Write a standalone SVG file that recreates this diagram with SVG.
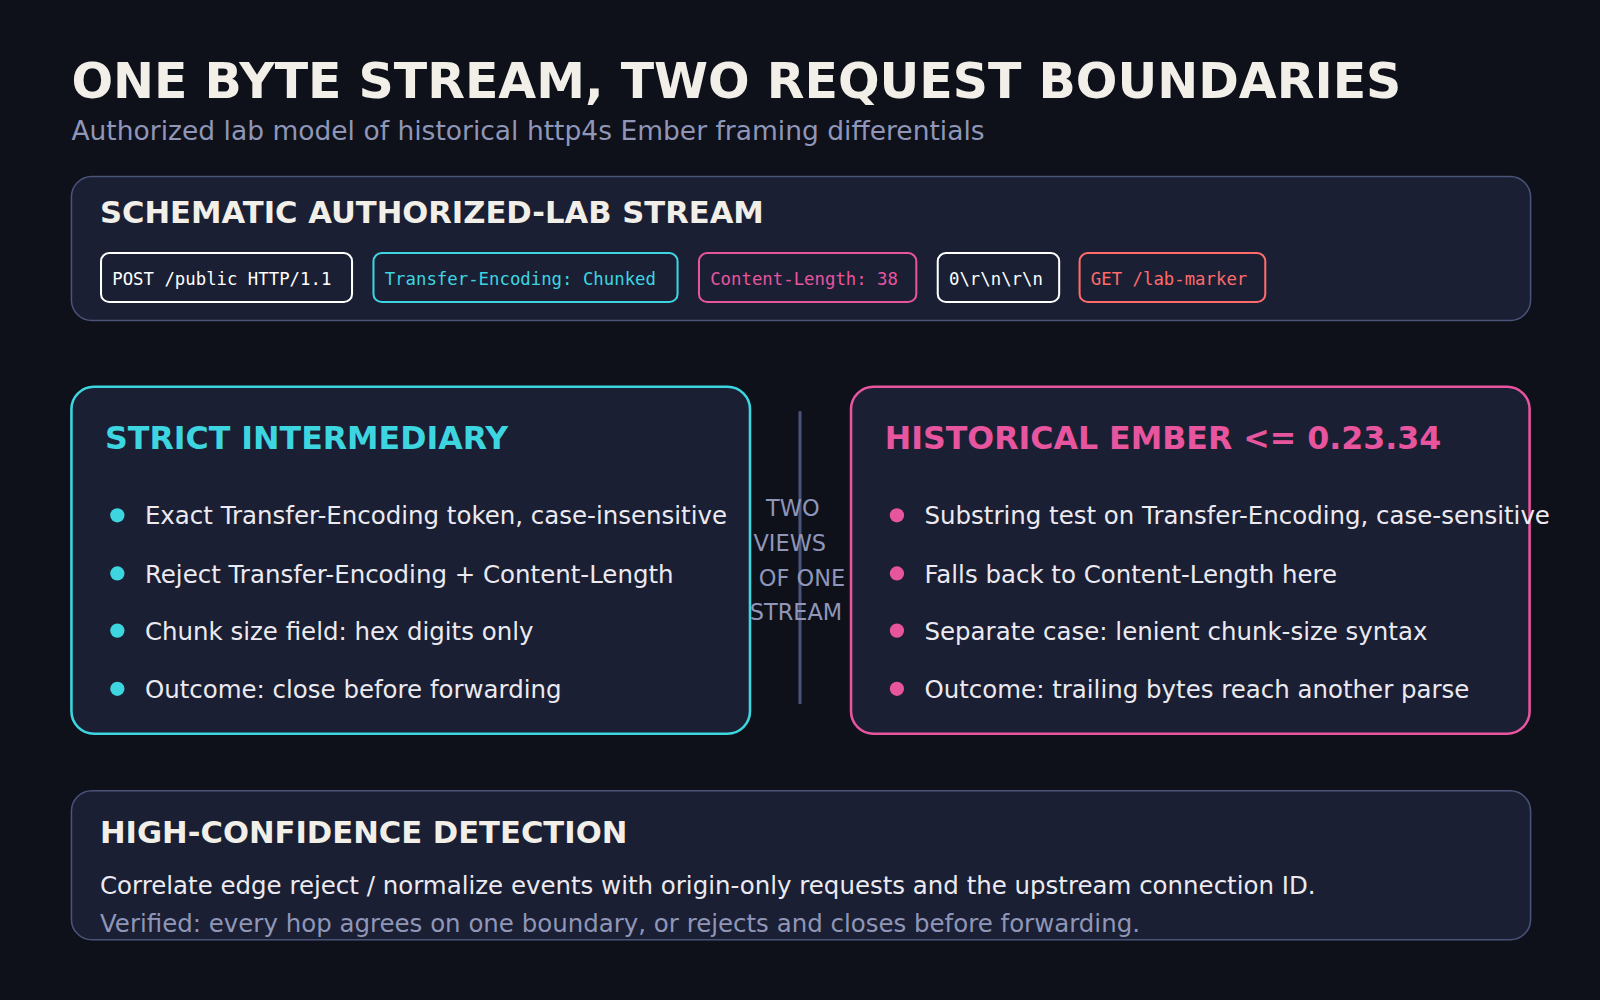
<svg xmlns="http://www.w3.org/2000/svg" width="1600" height="1000" viewBox="0 0 1600 1000">
<style>
.s{font-family:"DejaVu Sans","Liberation Sans",sans-serif}
.m{font-family:"DejaVu Sans Mono","Liberation Mono",monospace;font-size:17px}
.h{font-weight:bold;font-size:30px;fill:#f2efe8}
.b{font-size:24px;fill:#eceaf0}
.card{fill:#1a1f33;stroke:#4a5378;stroke-width:1.5}
.chip{fill:#1a1f33;stroke-width:2}
.g{fill:#8f96b8}
</style>
<rect width="1600" height="1000" fill="#0e101a"/>
<g transform="scale(1.0204)">
<g id="title">
<text class="s" x="70" y="96" font-size="48" font-weight="bold" fill="#f2efe8">ONE BYTE STREAM, TWO REQUEST BOUNDARIES</text>
<text class="s g" x="70" y="137" font-size="26">Authorized lab model of historical http4s Ember framing differentials</text>
</g>
<g id="stream">
<rect class="card" x="70" y="173" width="1430" height="141" rx="20"/>
<text class="s h" x="98" y="219">SCHEMATIC AUTHORIZED-LAB STREAM</text>
<rect class="chip" x="99" y="248" width="246" height="48" rx="8" stroke="#ffffff"/>
<text class="m" x="110" y="279" fill="#ffffff">POST /public HTTP/1.1</text>
<rect class="chip" x="366" y="248" width="298" height="48" rx="8" stroke="#3dd6e0"/>
<text class="m" x="377" y="279" fill="#3dd6e0">Transfer-Encoding: Chunked</text>
<rect class="chip" x="685" y="248" width="213" height="48" rx="8" stroke="#e8559f"/>
<text class="m" x="696" y="279" fill="#e8559f">Content-Length: 38</text>
<rect class="chip" x="919" y="248" width="119" height="48" rx="8" stroke="#ffffff"/>
<text class="m" x="930" y="279" fill="#ffffff">0\r\n\r\n</text>
<rect class="chip" x="1058" y="248" width="182" height="48" rx="8" stroke="#ff6b6b"/>
<text class="m" x="1069" y="279" fill="#ff6b6b">GET /lab-marker</text>
</g>
<g id="strict">
<rect x="70" y="379" width="665" height="340" rx="22" fill="#1a1f33" stroke="#3dd6e0" stroke-width="2.5"/>
<text class="s" x="103" y="440" font-size="31" font-weight="bold" fill="#3dd6e0">STRICT INTERMEDIARY</text>
<g fill="#3dd6e0"><circle cx="115" cy="505" r="7"/><circle cx="115" cy="562" r="7"/><circle cx="115" cy="618" r="7"/><circle cx="115" cy="675" r="7"/></g>
<text class="s b" x="142" y="514">Exact Transfer-Encoding token, case-insensitive</text>
<text class="s b" x="142" y="571">Reject Transfer-Encoding + Content-Length</text>
<text class="s b" x="142" y="627">Chunk size field: hex digits only</text>
<text class="s b" x="142" y="684">Outcome: close before forwarding</text>
</g>
<g id="divider">
<line x1="784" y1="403" x2="784" y2="690" stroke="#4a5378" stroke-width="3"/>
<g class="s g" font-size="22" text-anchor="middle">
<text x="777" y="506">TWO</text><text x="774" y="540">VIEWS</text><text x="786" y="574">OF ONE</text><text x="780" y="608">STREAM</text>
</g>
</g>
<g id="ember">
<rect x="834" y="379" width="665" height="340" rx="22" fill="#1a1f33" stroke="#e8559f" stroke-width="2.5"/>
<text class="s" x="867" y="440" font-size="31" font-weight="bold" fill="#e8559f">HISTORICAL EMBER &lt;= 0.23.34</text>
<g fill="#e8559f"><circle cx="879" cy="505" r="7"/><circle cx="879" cy="562" r="7"/><circle cx="879" cy="618" r="7"/><circle cx="879" cy="675" r="7"/></g>
<text class="s b" x="906" y="514">Substring test on Transfer-Encoding, case-sensitive</text>
<text class="s b" x="906" y="571">Falls back to Content-Length here</text>
<text class="s b" x="906" y="627">Separate case: lenient chunk-size syntax</text>
<text class="s b" x="906" y="684">Outcome: trailing bytes reach another parse</text>
</g>
<g id="detection">
<rect class="card" x="70" y="775" width="1430" height="146" rx="20"/>
<text class="s h" x="98" y="826">HIGH-CONFIDENCE DETECTION</text>
<text class="s b" x="98" y="876">Correlate edge reject / normalize events with origin-only requests and the upstream connection ID.</text>
<text class="s g" x="98" y="913" font-size="24">Verified: every hop agrees on one boundary, or rejects and closes before forwarding.</text>
</g>
</g>
</svg>
